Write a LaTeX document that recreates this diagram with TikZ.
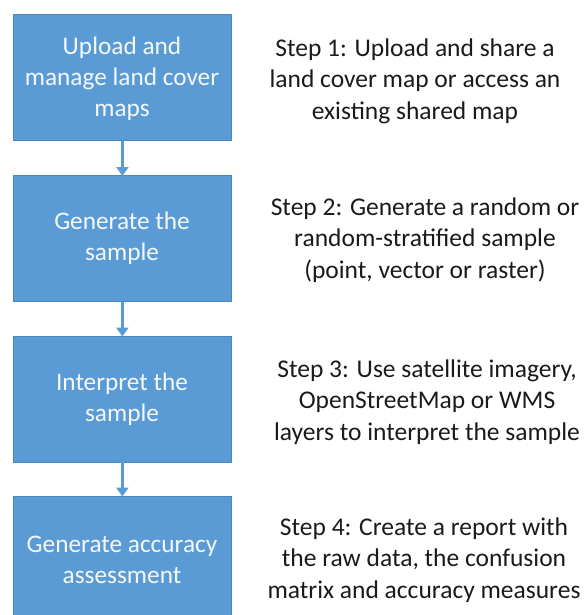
\documentclass[tikz,border=0pt]{standalone}
\usepackage{fontspec}
\setmainfont{Carlito}
\usetikzlibrary{arrows.meta}
\definecolor{boxblue}{HTML}{5B9BD5}
\definecolor{boxedge}{HTML}{4A86C0}
\definecolor{boxtext}{HTML}{F4F8FC}
\definecolor{steptext}{HTML}{1A1A1A}
\tikzset{
  stepbox/.style={draw=boxedge, line width=0.8pt, fill=boxblue, minimum width=218pt, inner sep=0pt, anchor=north west},
  boxlabel/.style={text=boxtext, font=\fontsize{25.3}{31}\selectfont, align=center},
  desc/.style={text=steptext, font=\fontsize{25.5}{31.5}\selectfont, align=center},
  flow/.style={draw=boxblue, line width=2.6pt, -{Triangle[length=9pt,width=12pt]}, shorten >=-1pt}
}
\begin{document}
\begin{tikzpicture}[x=1pt,y=-1pt]
\useasboundingbox (0,0) rectangle (584,615);
\node[stepbox, minimum height=126pt] (b1) at (13,14) {};
\node[stepbox, minimum height=126pt] (b2) at (13,175) {};
\node[stepbox, minimum height=126pt] (b3) at (13,335.5) {};
\node[stepbox, minimum height=130pt] (b4) at (13,495.5) {};
\node[boxlabel] (t1) at (122,79) {Upload and\\manage land cover\\maps};
\node[boxlabel] (t2) at (122,238) {Generate the\\sample};
\node[boxlabel] (t3) at (122,399) {Interpret the\\sample};
\node[boxlabel] (t4) at (122,560) {Generate accuracy\\assessment};
\draw[flow] (b1.south) -- (b2.north);
\draw[flow] (b2.south) -- (b3.north);
\draw[flow] (b3.south) -- (b4.north);
\node[desc] (d1) at (415,81) {Step 1: Upload and share a\\land cover map or access an\\existing shared map};
\node[desc] (d2) at (425,240) {Step 2: Generate a random or\\random-stratified sample\\(point, vector or raster)};
\node[desc] (d3) at (427,402) {Step 3: Use satellite imagery,\\OpenStreetMap or WMS\\layers to interpret the sample};
\node[desc] (d4) at (424,560) {Step 4: Create a report with\\the raw data, the confusion\\matrix and accuracy measures};
\end{tikzpicture}
\end{document}
